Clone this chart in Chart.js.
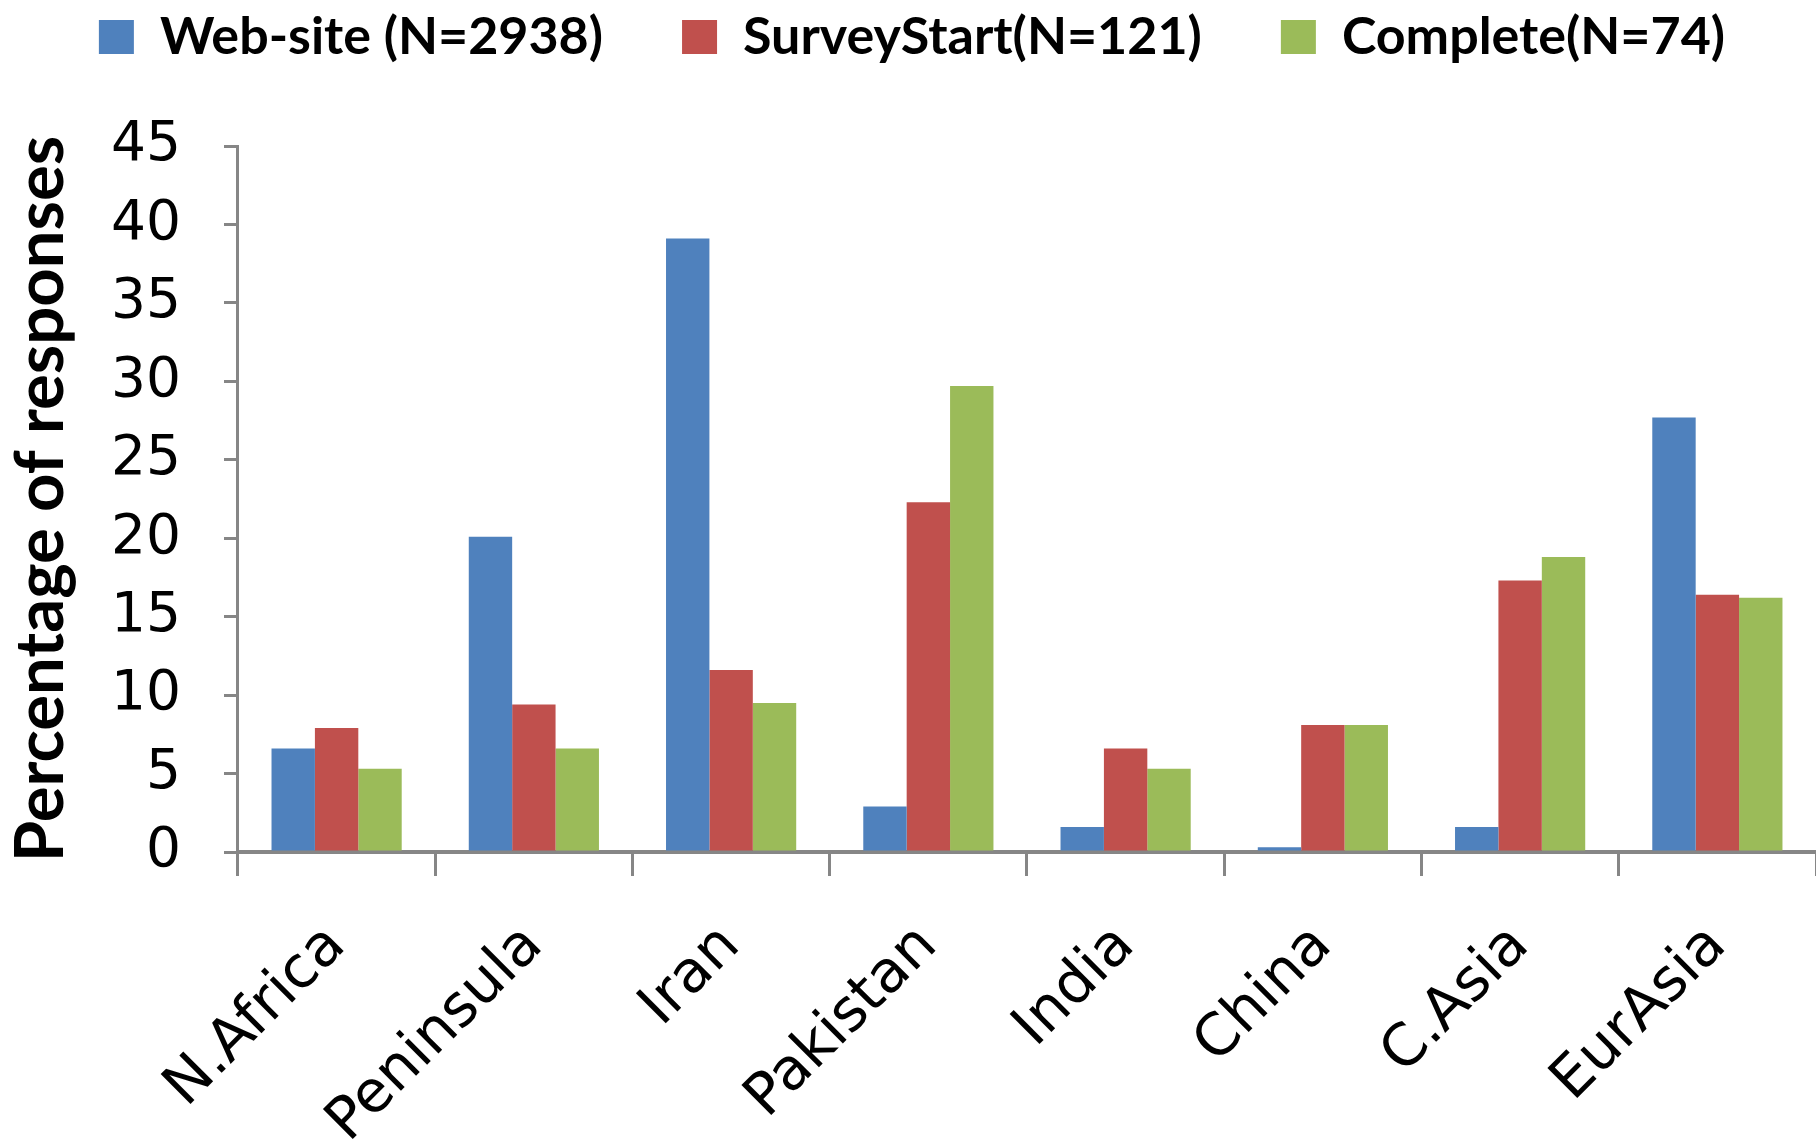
<!DOCTYPE html>
<html>
<head>
<meta charset="utf-8">
<script src="https://cdn.jsdelivr.net/npm/chart.js@4.4.1/dist/chart.umd.min.js"></script>
<style>
  html, body { margin: 0; padding: 0; background: #fff; }
</style>
</head>
<body>
<canvas id="chart" width="1816" height="1144"></canvas>
<script>
// regions on the x axis
const regions = ['N.Africa', 'Peninsula', 'Iran', 'Pakistan', 'India', 'China', 'C.Asia', 'EurAsia'];

// percentage of responses
const webSite = [6.6, 20.1, 39.1, 2.9, 1.6, 0.3, 1.6, 27.7];
const surveyStart = [7.9, 9.4, 11.6, 22.3, 6.6, 8.1, 17.3, 16.4];
const complete = [5.3, 6.6, 9.5, 29.7, 5.3, 8.1, 18.8, 16.2];

const seriesNames = ['Web-site (N=2938)', 'SurveyStart(N=121)', 'Complete(N=74)'];
const yTicks = [0, 5, 10, 15, 20, 25, 30, 35, 40, 45];

const axisGray = '#868686';

// leave an empty band under the legend (the original has a big gap there)
const legendGap = {
    id: 'legendGap',
    afterInit(chart) {
        const legend = chart.legend;
        const fit = legend.fit;
        legend.fit = function () {
            fit.call(this);
            this.height += 73;
        };
    }
};

const ctx = document.getElementById('chart');
new Chart(ctx, {
    type: 'bar',
    data: {
        labels: regions,
        datasets: [
            { label: seriesNames[0], data: webSite, backgroundColor: '#4F81BD' },
            { label: seriesNames[1], data: surveyStart, backgroundColor: '#C0504D' },
            { label: seriesNames[2], data: complete, backgroundColor: '#9BBB59' }
        ]
    },
    plugins: [legendGap],
    options: {
        responsive: false,
        animation: false,
        layout: { padding: { top: -68, left: 8, right: 0, bottom: -49 } },
        datasets: {
            bar: { categoryPercentage: 0.66, barPercentage: 1.0 }
        },
        plugins: {
            tooltip: { enabled: false },
            legend: {
                position: 'top',
                labels: {
                    boxWidth: 35,
                    boxHeight: 34,
                    padding: 79,
                    color: '#000',
                    font: { family: 'Lato', weight: 'bold', size: 52 }
                }
            }
        },
        scales: {
            x: {
                grid: {
                    offset: true,
                    drawOnChartArea: false,
                    drawTicks: true,
                    tickLength: 24,
                    color: axisGray,
                    lineWidth: 3
                },
                border: { color: axisGray, width: 4 },
                ticks: {
                    color: '#000',
                    font: { family: 'DejaVu Sans', size: 58 },
                    minRotation: 45,
                    maxRotation: 45,
                    autoSkip: false,
                    padding: 36
                }
            },
            y: {
                min: 0,
                max: 45,
                afterBuildTicks: function (scale) {
                    scale.ticks = yTicks.map(v => ({ value: v }));
                },
                grid: {
                    drawOnChartArea: false,
                    drawTicks: true,
                    tickLength: 14,
                    color: axisGray,
                    lineWidth: 3
                },
                border: { color: axisGray, width: 3 },
                ticks: {
                    color: '#000',
                    padding: 43,
                    font: { family: 'DejaVu Sans', size: 55 }
                },
                title: {
                    display: true,
                    text: 'Percentage of responses',
                    color: '#000',
                    font: { family: 'Lato', weight: 'bold', size: 67, lineHeight: 1 },
                    padding: { top: 0, bottom: -7 }
                }
            }
        }
    }
});
</script>
</body>
</html>
